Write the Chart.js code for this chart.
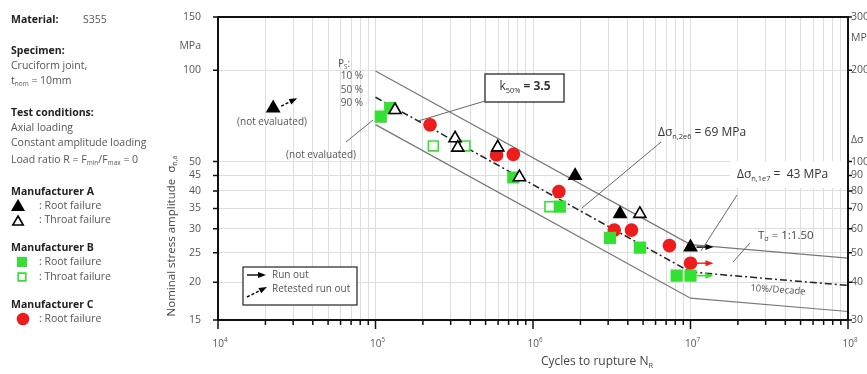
<!DOCTYPE html>
<html>
<head>
<meta charset="utf-8">
<script src="https://cdn.jsdelivr.net/npm/chart.js@4.4.0/dist/chart.umd.min.js"></script>
<style>html,body{margin:0;padding:0;background:#fff;overflow:hidden}</style>
</head>
<body>
<canvas id="snChart" width="867" height="374"></canvas>
<script>
// --- data ---
const aRootN = [2.24e4, 1.85e6, 3.57e6, 1.0e7];
const aRootS = [75.0, 44.9, 33.6, 26.1];
const aThroatN = [1.33e5, 3.2e5, 3.33e5, 5.97e5, 8.2e5, 4.77e6];
const aThroatS = [74.0, 59.7, 55.6, 55.7, 44.4, 33.6];
const bRootN = [1.08e5, 1.24e5, 7.5e5, 1.48e6, 3.08e6, 4.77e6, 8.17e6, 1.0e7];
const bRootS = [70.3, 75.1, 44.3, 35.5, 28.0, 26.0, 21.0, 21.0];
const bThroatN = [2.33e5, 3.7e5, 1.28e6];
const bThroatS = [56.3, 56.3, 35.5];
const cRootN = [2.22e5, 5.87e5, 7.5e5, 1.46e6, 3.28e6, 4.22e6, 7.35e6, 1.0e7];
const cRootS = [66.1, 52.6, 52.8, 39.8, 29.7, 29.7, 26.4, 23.1];

// run outs (series index: 0 = A, 1 = B, 2 = C) and the retested run out
const runoutN = [1.0e7, 1.0e7, 1.0e7];
const runoutS = [26.1, 21.0, 23.1];
const runoutSeries = [0, 1, 2];
const retestN = [2.24e4];
const retestS = [75.0];

// scatter band: 10 %, 50 %, 90 % survival
const bandN = [1e5, 1e7, 1e8];
const upperS = [99.5, 26.6, 24.0];
const meanS = [81.5, 21.6, 19.5];
const lowerS = [66.2, 17.7, 16.0];

// ticks
const xDecades = [1e4, 1e5, 1e6, 1e7, 1e8];
const xDecadeExp = ['4', '5', '6', '7', '8'];
const xMinorMult = [2, 3, 4, 5, 6, 7, 8, 9];
const yTicks = [15, 20, 25, 30, 35, 40, 45, 50, 100, 120, 150];
const yTickLabels = ['15', '20', '25', '30', '35', '40', '45', '50', '100', 'MPa', '150'];
const y2Ticks = [30, 40, 50, 60, 70, 80, 90, 100, 118, 200, 256, 300];
const y2TickLabels = ['30', '40', '50', '60', '70', '80', '90', '100', 'Δσ', '200', 'MPa', '300'];

const colA = '#000000';
const colB = '#35e035';
const colC = '#ee1c1c';
const FONT = '"Open Sans", sans-serif';

const xTickVals = [];
xDecades.forEach((d, i) => {
    xTickVals.push(d);
    if (i < xDecades.length - 1) xMinorMult.forEach(m => xTickVals.push(d * m));
});
xTickVals.sort((a, b) => a - b);

const toPts = (ns, ss) => ns.map((n, i) => ({x: n, y: ss[i]}));

function richText(ctx, parts, x, y, size, align, color) {
    let w = 0;
    const segs = parts.map(p => {
        const [t, m, bold] = p;
        const fs = m ? size * 0.62 : size;
        const f = (bold ? 'bold ' : '') + fs + 'px ' + FONT;
        ctx.font = f;
        const tw = ctx.measureText(t).width;
        w += tw;
        return {t, f, tw, dy: m === 1 ? size * 0.3 : m === 2 ? -size * 0.38 : 0};
    });
    let cx = align === 'center' ? x - w / 2 : align === 'right' ? x - w : x;
    ctx.fillStyle = color;
    ctx.textBaseline = 'middle';
    ctx.textAlign = 'left';
    segs.forEach(s => {
        ctx.font = s.f;
        ctx.fillText(s.t, cx, y + s.dy);
        cx += s.tw;
    });
    return w;
}

function arrow(ctx, x1, y1, x2, y2, color, dashed) {
    const a = Math.atan2(y2 - y1, x2 - x1), h = 8, hw = 3;
    ctx.save();
    ctx.strokeStyle = color;
    ctx.fillStyle = color;
    ctx.lineWidth = 1.4;
    if (dashed) ctx.setLineDash([3, 2]);
    ctx.beginPath();
    ctx.moveTo(x1, y1);
    ctx.lineTo(x2 - h * 0.8 * Math.cos(a), y2 - h * 0.8 * Math.sin(a));
    ctx.stroke();
    ctx.setLineDash([]);
    ctx.beginPath();
    ctx.moveTo(x2, y2);
    ctx.lineTo(x2 - h * Math.cos(a) + hw * Math.sin(a), y2 - h * Math.sin(a) - hw * Math.cos(a));
    ctx.lineTo(x2 - h * Math.cos(a) - hw * Math.sin(a), y2 - h * Math.sin(a) + hw * Math.cos(a));
    ctx.closePath();
    ctx.fill();
    ctx.restore();
}

function marker(ctx, kind, x, y, fill, stroke, r) {
    ctx.save();
    ctx.fillStyle = fill;
    ctx.strokeStyle = stroke;
    ctx.lineWidth = 1.6;
    ctx.beginPath();
    if (kind === 'triangle') {
        ctx.moveTo(x, y - r);
        ctx.lineTo(x + r * 0.87, y + r * 0.5);
        ctx.lineTo(x - r * 0.87, y + r * 0.5);
        ctx.closePath();
    } else if (kind === 'rect') {
        ctx.rect(x - r * 0.7, y - r * 0.7, r * 1.4, r * 1.4);
    } else {
        ctx.arc(x, y, r, 0, Math.PI * 2);
    }
    ctx.fill();
    ctx.stroke();
    ctx.restore();
}

function leader(ctx, x1, y1, x2, y2) {
    ctx.save();
    ctx.strokeStyle = '#666';
    ctx.lineWidth = 1;
    ctx.beginPath();
    ctx.moveTo(x1, y1);
    ctx.lineTo(x2, y2);
    ctx.stroke();
    ctx.restore();
}

const decor = {
    id: 'decor',
    afterDatasetsDraw(chart) {
        const ctx = chart.ctx, xs = chart.scales.x, ys = chart.scales.y;
        const cols = [colA, colB, colC];
        runoutN.forEach((n, i) => {
            const px = xs.getPixelForValue(n), py = ys.getPixelForValue(runoutS[i]);
            arrow(ctx, px + 6, py, px + 23, py, cols[runoutSeries[i]], false);
        });
        retestN.forEach((n, i) => {
            const px = xs.getPixelForValue(n), py = ys.getPixelForValue(retestS[i]);
            arrow(ctx, px + 8, py - 2, px + 24, py - 10, '#000', true);
        });
    },
    afterDraw(chart) {
        const ctx = chart.ctx, a = chart.chartArea;
        const xs = chart.scales.x, ys = chart.scales.y, y2 = chart.scales.y2;

        // frame
        ctx.save();
        ctx.strokeStyle = '#111';
        ctx.lineWidth = 2;
        ctx.strokeRect(a.left, a.top, a.right - a.left, a.bottom - a.top);
        ctx.lineWidth = 1.5;
        ctx.beginPath();
        xTickVals.forEach(v => {
            const px = xs.getPixelForValue(v);
            const len = xDecades.includes(v) ? 9 : 5;
            ctx.moveTo(px, a.bottom);
            ctx.lineTo(px, a.bottom + len);
        });
        yTicks.forEach((v, i) => {
            if (yTickLabels[i] === 'MPa') return;
            const py = ys.getPixelForValue(v);
            ctx.moveTo(a.left - 5, py);
            ctx.lineTo(a.left, py);
        });
        y2Ticks.forEach((v, i) => {
            if (y2TickLabels[i] === 'MPa' || y2TickLabels[i] === 'Δσ') return;
            const py = y2.getPixelForValue(v);
            ctx.moveTo(a.right, py);
            ctx.lineTo(a.right + 4, py);
        });
        ctx.stroke();
        ctx.restore();

        // x tick labels 10^n
        xDecades.forEach((d, i) => {
            richText(ctx, [['10', 0], [xDecadeExp[i], 2]], xs.getPixelForValue(d) + 2, a.bottom + 24, 10, 'center', '#555');
        });

        // axis titles
        richText(ctx, [['Cycles to rupture N', 0], ['R', 1]], 597, 362, 12, 'center', '#444');
        ctx.save();
        ctx.translate(172, 236);
        ctx.rotate(-Math.PI / 2);
        richText(ctx, [['Nominal stress amplitude  σ', 0], ['n,a', 1]], 0, 0, 11.5, 'center', '#444');
        ctx.restore();

        // left info panel
        const L = 11, fs = 10.5, grey = '#555', dark = '#222';
        richText(ctx, [['Material:', 0, true]], L, 20, fs, 'left', dark);
        richText(ctx, [['S355', 0]], 83, 20, fs, 'left', grey);
        richText(ctx, [['Specimen:', 0, true]], L, 51, fs, 'left', dark);
        richText(ctx, [['Cruciform joint,', 0]], L, 66, fs, 'left', grey);
        richText(ctx, [['t', 0], ['nom', 1], [' = 10mm', 0]], L, 81, fs, 'left', grey);
        richText(ctx, [['Test conditions:', 0, true]], L, 113, fs, 'left', dark);
        richText(ctx, [['Axial loading', 0]], L, 128, fs, 'left', grey);
        richText(ctx, [['Constant amplitude loading', 0]], L, 143, fs, 'left', grey);
        richText(ctx, [['Load ratio R = F', 0], ['min', 1], ['/F', 0], ['max', 1], [' = 0', 0]], L, 160, fs, 'left', grey);

        richText(ctx, [['Manufacturer A', 0, true]], L, 192, fs, 'left', dark);
        marker(ctx, 'triangle', 18, 207, '#000', '#000', 6.5);
        richText(ctx, [[': Root failure', 0]], 39, 206, fs, 'left', grey);
        marker(ctx, 'triangle', 18, 222, '#fff', '#000', 6);
        richText(ctx, [[': Throat failure', 0]], 39, 220, fs, 'left', grey);

        richText(ctx, [['Manufacturer B', 0, true]], L, 248, fs, 'left', dark);
        marker(ctx, 'rect', 22, 262, colB, colB, 6);
        richText(ctx, [[': Root failure', 0]], 39, 262, fs, 'left', grey);
        marker(ctx, 'rect', 22, 277, '#fff', colB, 5.5);
        richText(ctx, [[': Throat failure', 0]], 39, 277, fs, 'left', grey);

        richText(ctx, [['Manufacturer C', 0, true]], L, 305, fs, 'left', dark);
        marker(ctx, 'circle', 23, 319, colC, colC, 5.5);
        richText(ctx, [[': Root failure', 0]], 39, 319, fs, 'left', grey);

        // annotations in the plot
        richText(ctx, [['P', 0], ['S', 1], [':', 0]], 338, 64, 10, 'left', grey);
        richText(ctx, [['10 %', 0]], 363, 76, 10, 'right', grey);
        richText(ctx, [['50 %', 0]], 363, 90, 10, 'right', grey);
        richText(ctx, [['90 %', 0]], 363, 103, 10, 'right', grey);

        richText(ctx, [['(not evaluated)', 0]], 272, 122, 10, 'center', grey);
        richText(ctx, [['(not evaluated)', 0]], 321, 155, 10, 'center', grey);
        leader(ctx, 346, 142, 373, 120);

        // k box
        ctx.save();
        ctx.fillStyle = '#fff';
        ctx.strokeStyle = '#444';
        ctx.lineWidth = 1.5;
        ctx.fillRect(485, 74, 79, 28);
        ctx.strokeRect(485, 74, 79, 28);
        ctx.restore();
        richText(ctx, [['k', 0], ['50%', 1], [' = 3.5', 0, true]], 525, 87, 12, 'center', '#333');
        leader(ctx, 485, 101, 418, 121);

        richText(ctx, [['Δσ', 0], ['n,2e6', 1], [' = 69 MPa', 0]], 658, 133, 12, 'left', '#333');
        leader(ctx, 661, 142, 582, 208);

        ctx.save();
        ctx.fillStyle = '#fff';
        ctx.fillRect(730, 161, 117, 27);
        ctx.restore();
        richText(ctx, [['Δσ', 0], ['n,1e7', 1], [' =  43 MPa', 0]], 737, 175, 12, 'left', '#333');
        leader(ctx, 737, 195, 701, 251);

        richText(ctx, [['T', 0], ['σ', 1], [' = 1:1.50', 0]], 758, 236, 11.5, 'left', '#444');
        leader(ctx, 750, 243, 733, 262);

        ctx.save();
        ctx.translate(778, 290);
        ctx.rotate(0.07);
        richText(ctx, [['10%/Decade', 0]], 0, 0, 9.5, 'center', grey);
        ctx.restore();

        // run out legend box
        ctx.save();
        ctx.fillStyle = '#fff';
        ctx.strokeStyle = '#333';
        ctx.lineWidth = 1.3;
        ctx.fillRect(243, 267, 114, 38);
        ctx.strokeRect(243, 267, 114, 38);
        ctx.restore();
        arrow(ctx, 247, 275, 266, 275, '#000', false);
        richText(ctx, [['Run out', 0]], 272, 275, 10, 'left', grey);
        arrow(ctx, 247, 297, 267, 287, '#000', true);
        richText(ctx, [['Retested run out', 0]], 272, 289, 10, 'left', grey);
    }
};

const pointSet = (label, ns, ss, style, fill, stroke, r) => ({
    label, data: toPts(ns, ss), pointStyle: style, pointRadius: r,
    backgroundColor: fill, borderColor: stroke, borderWidth: 1.6, showLine: false
});
const lineSet = (label, ss, color, width, dash) => ({
    label, data: toPts(bandN, ss), showLine: true, pointRadius: 0,
    borderColor: color, borderWidth: width, borderDash: dash, fill: false, tension: 0
});

// vertical axes: fixed widths, no extra label overhang above/below the plot
const fixWidth = w => s => {
    s.width = w;
    s.paddingTop = 0;
    s.paddingBottom = 0;
};

const ctx = document.getElementById('snChart');
new Chart(ctx, {
    type: 'scatter',
    data: {
        datasets: [
            pointSet('A throat failure', aThroatN, aThroatS, 'triangle', '#fff', colA, 7),
            pointSet('A root failure', aRootN, aRootS, 'triangle', colA, colA, 7),
            pointSet('B root failure', bRootN, bRootS, 'rect', colB, colB, 7.5),
            pointSet('B throat failure', bThroatN, bThroatS, 'rect', '#fff', colB, 7),
            pointSet('C root failure', cRootN, cRootS, 'circle', colC, colC, 6),
            lineSet('Ps 90 %', lowerS, '#777', 1.2, []),
            lineSet('Ps 50 %', meanS, '#222', 1.5, [7, 3, 2, 3]),
            lineSet('Ps 10 %', upperS, '#777', 1.2, [])
        ]
    },
    options: {
        responsive: false,
        animation: false,
        layout: {padding: {left: 160, top: 17, right: 0, bottom: 0}},
        plugins: {legend: {display: false}, tooltip: {enabled: false}},
        scales: {
            x: {
                type: 'logarithmic', position: 'bottom', min: 1e4, max: 1e8, bounds: 'data',
                afterBuildTicks: s => { s.ticks = xTickVals.map(v => ({value: v})); },
                afterFit: s => { s.height = 54; },
                ticks: {display: false, autoSkip: false},
                grid: {color: '#dedede', lineWidth: 1, drawTicks: false},
                border: {display: false}
            },
            y: {
                type: 'logarithmic', position: 'left', min: 15, max: 150, bounds: 'data',
                afterBuildTicks: s => { s.ticks = yTicks.map(v => ({value: v})); },
                afterFit: fixWidth(58),
                ticks: {
                    autoSkip: false, padding: 17, color: '#555',
                    font: {family: 'Open Sans', size: 10.5},
                    callback: (v, i) => yTickLabels[i]
                },
                grid: {
                    color: c => (c.tick && c.tick.label === 'MPa') ? 'rgba(0,0,0,0)' : '#dedede',
                    lineWidth: 1, drawTicks: false
                },
                border: {display: false}
            },
            y2: {
                type: 'logarithmic', position: 'right', min: 30, max: 300, bounds: 'data',
                afterBuildTicks: s => { s.ticks = y2Ticks.map(v => ({value: v})); },
                afterFit: fixWidth(19),
                ticks: {
                    autoSkip: false, padding: 3, color: '#555',
                    font: {family: 'Open Sans', size: 10.5},
                    callback: (v, i) => y2TickLabels[i]
                },
                grid: {display: false, drawTicks: false},
                border: {display: false}
            }
        }
    },
    plugins: [decor]
});
</script>
</body>
</html>
